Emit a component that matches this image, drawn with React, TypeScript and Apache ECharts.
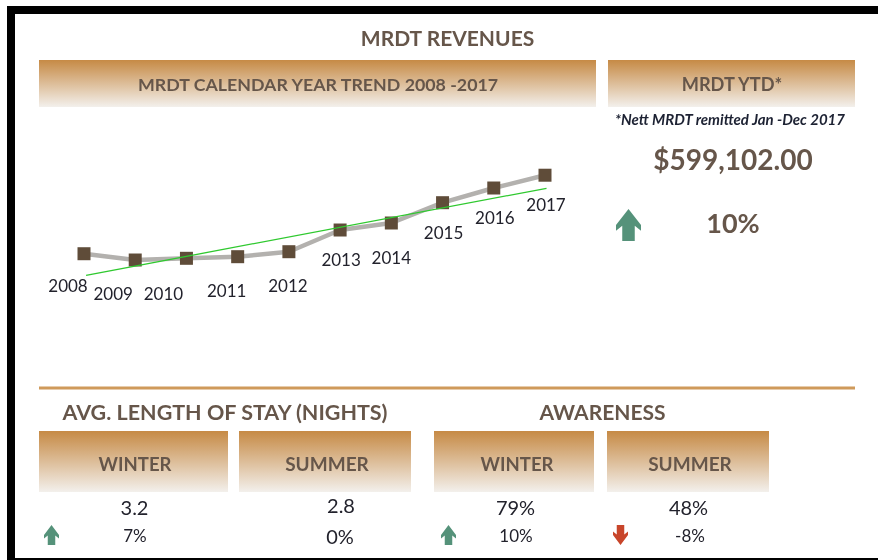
import React, { useEffect, useRef } from "react";
import * as echarts from "echarts";

const years = [2008, 2009, 2010, 2011, 2012, 2013, 2014, 2015, 2016, 2017];
const revenues = [272000, 245800, 252900, 259600, 280400, 370800, 400000, 484600, 545800, 599102];
const trendStart = [2008.04, 182000];
const trendEnd = [2017.03, 544600];
const labelOffsets = [
  [-16, 32], [-22, 33], [-23, 35], [-11, 34], [-1, 34],
  [1, 29], [0, 34], [1, 30], [1, 29], [1, 29],
];

const FONT = "Lato";
const BROWN = "#66564a";
const INK = "#22222c";
const GREEN = "#55927a";
const RED = "#c8452a";

const header = (x0: number, y0: number, x1: number, y1: number) => ({
  type: "rect",
  shape: { x: x0, y: y0, width: x1 - x0, height: y1 - y0 },
  style: {
    fill: new echarts.graphic.LinearGradient(0, 0, 0, 1, [
      { offset: 0, color: "#c68a45" },
      { offset: 1, color: "#f3f0ec" },
    ]),
  },
  silent: true,
});

const label = (
  text: string,
  cx: number,
  cy: number,
  size: number,
  color: string,
  weight: string = "bold",
  style: string = "normal"
) => ({
  type: "text",
  x: cx,
  y: cy,
  style: {
    text,
    fontFamily: FONT,
    fontSize: size,
    fontWeight: weight,
    fontStyle: style,
    fill: color,
    align: "center",
    verticalAlign: "middle",
  },
  silent: true,
});

const arrow = (x: number, y: number, w: number, h: number, up: boolean, color: string) => {
  const shapeUp = [
    [0.5, 0], [1, 0.5], [1, 0.68], [0.75, 0.52], [0.75, 1],
    [0.25, 1], [0.25, 0.52], [0, 0.68], [0, 0.5],
  ];
  const pts = shapeUp.map(([px, py]) => [x + px * w, y + (up ? py : 1 - py) * h]);
  return { type: "polygon", shape: { points: pts }, style: { fill: color }, silent: true };
};

export default function App() {
  const ref = useRef<HTMLDivElement>(null);
  useEffect(() => {
    const chart = echarts.init(ref.current!, undefined, { renderer: "svg" });
    chart.setOption({
      animation: false,
      backgroundColor: "#ffffff",
      grid: { left: 84, top: 127, width: 461, height: 192 },
      xAxis: { type: "value", min: 2008, max: 2017, show: false },
      yAxis: { type: "value", min: 0, max: 800000, show: false },
      series: [
        {
          type: "line",
          data: years.map((y, i) => ({
            value: [y, revenues[i]],
            label: { offset: labelOffsets[i] },
          })),
          lineStyle: { color: "#b3b1ae", width: 4.5 },
          symbol: "rect",
          symbolSize: 13,
          itemStyle: { color: "#5f4c39" },
          label: {
            show: true,
            position: "inside",
            formatter: (p: any) => String(p.value[0]),
            fontFamily: FONT,
            fontSize: 17,
            color: INK,
          },
          z: 2,
        },
        {
          type: "line",
          data: [trendStart, trendEnd],
          symbol: "none",
          lineStyle: { color: "#2fc92f", width: 1.3 },
          z: 3,
        },
      ],
      graphic: [
        { type: "rect", shape: { x: 7, y: 6, width: 871, height: 8 }, style: { fill: "#000" }, silent: true },
        { type: "rect", shape: { x: 7, y: 6, width: 8, height: 554 }, style: { fill: "#000" }, silent: true },
        { type: "rect", shape: { x: 7, y: 558, width: 871, height: 2 }, style: { fill: "#000" }, silent: true },
        header(39, 60, 596, 107),
        header(608, 60, 855, 107),
        { type: "rect", shape: { x: 39, y: 386.5, width: 816, height: 3 }, style: { fill: "#cf9a5b" }, silent: true },
        header(39, 431, 228, 492),
        header(239, 431, 411, 492),
        header(434, 431, 594, 492),
        header(607, 431, 769, 492),
        label("MRDT REVENUES", 447.5, 37.5, 21, BROWN),
        label("MRDT CALENDAR YEAR TREND 2008 -2017", 318, 83.5, 17.8, BROWN),
        label("MRDT YTD*", 732, 83.5, 18.2, BROWN),
        label("*Nett MRDT remitted Jan -Dec 2017", 730, 118.5, 15, "#1d2233", "bold", "italic"),
        label("$599,102.00", 733, 159, 28, BROWN),
        label("10%", 733, 222.5, 27, BROWN),
        label("AVG. LENGTH OF STAY (NIGHTS)", 225, 411.5, 21.5, BROWN),
        label("AWARENESS", 602.5, 411.5, 21, BROWN),
        label("WINTER", 135, 463.5, 18.5, BROWN),
        label("SUMMER", 327, 463.5, 19, BROWN),
        label("WINTER", 517, 463.5, 18.5, BROWN),
        label("SUMMER", 690, 463.5, 19, BROWN),
        label("3.2", 134.5, 506.5, 20, INK, "normal"),
        label("2.8", 341, 505, 20, INK, "normal"),
        label("79%", 515.5, 506.5, 20, INK, "normal"),
        label("48%", 688.5, 506.5, 20, INK, "normal"),
        label("7%", 135, 535.5, 17, INK, "normal"),
        label("0%", 340, 535.5, 20, INK, "normal"),
        label("10%", 516, 535.5, 17, INK, "normal"),
        label("-8%", 690, 535.5, 17, INK, "normal"),
        arrow(616, 209, 25, 32, true, GREEN),
        arrow(44, 525, 15, 20, true, GREEN),
        arrow(441, 525, 15, 20, true, GREEN),
        arrow(613, 525, 15, 20, false, RED),
      ],
    });
    return () => chart.dispose();
  }, []);
  return (
    <div
      ref={ref}
      style={{ position: "fixed", left: 0, top: 0, width: 878, height: 560, filter: "blur(0.4px)" }}
    />
  );
}
